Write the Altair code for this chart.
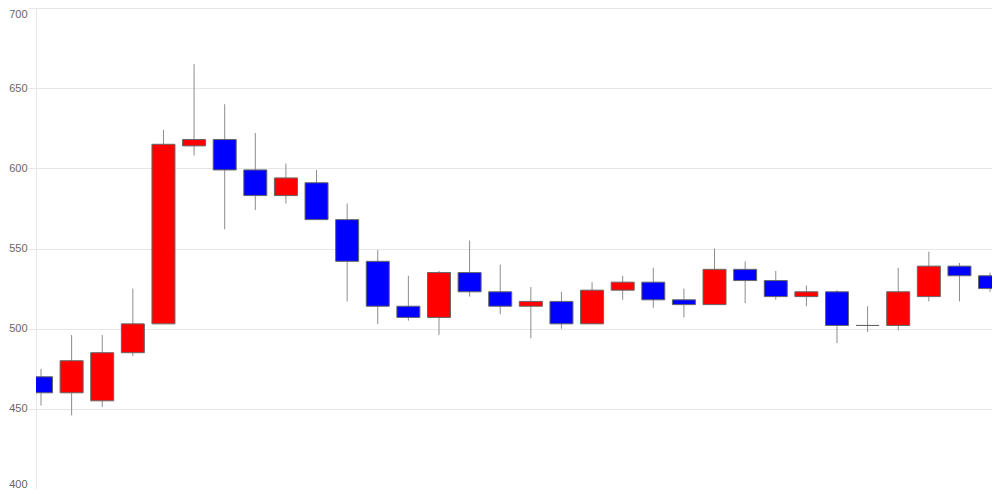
import altair as alt
import pandas as pd

opens  = [470, 460, 455, 485, 503, 614, 618, 599, 583, 591, 568, 542, 514, 507, 535, 523,
          514, 517, 503, 524, 529, 518, 515, 537, 530, 520, 523, 502, 502, 520, 539, 533]
closes = [460, 480, 485, 503, 615, 618, 599, 583, 594, 568, 542, 514, 507, 535, 523, 514,
          517, 503, 524, 529, 518, 515, 537, 530, 520, 523, 502, 502, 523, 539, 533, 525]
highs  = [475, 496, 496, 525, 624, 665, 640, 622, 603, 599, 578, 549, 533, 536, 555, 540,
          526, 523, 529, 533, 538, 525, 550, 542, 536, 527, 524, 514, 538, 548, 541, 535]
lows   = [452, 446, 451, 483, 503, 608, 562, 574, 578, 568, 517, 503, 505, 496, 520, 509,
          494, 500, 503, 518, 513, 507, 515, 516, 518, 514, 491, 498, 499, 517, 517, 523]
y_ticks = [400, 450, 500, 550, 600, 650, 700]

df = pd.DataFrame({
    "i": list(range(len(opens))),
    "open": opens, "close": closes, "high": highs, "low": lows,
})
df["dir"] = ["up" if c > o else ("down" if c < o else "flat") for o, c in zip(opens, closes)]

x = alt.X("i:Q", scale=alt.Scale(domain=[0, 30.9], nice=False, zero=False), axis=None)
yscale = alt.Scale(domain=[400, 700], nice=False, zero=False)

base = alt.Chart(df)

wicks = base.mark_rule(color="#8c8c8c", strokeWidth=1, clip=True).encode(
    x=x,
    y=alt.Y("low:Q", scale=yscale, axis=alt.Axis(
        values=y_ticks, title=None,
        grid=True, gridColor="#e6e6e6", gridWidth=1,
        domain=True, domainColor="#e6e6e6",
        ticks=True, tickColor="#e6e6e6", tickSize=8,
        labelPadding=1, labelFont="Liberation Sans", labelFontSize=11,
        labelColor="#666666",
        labelBaseline={"condition": [
            {"test": "datum.value == 700", "value": "top"},
            {"test": "datum.value == 400", "value": "bottom"},
        ], "value": "middle"},
    )),
    y2="high:Q",
)

bodies = base.mark_bar(width=23, stroke="#666666", strokeWidth=1, clip=True).encode(
    x=x,
    y=alt.Y("open:Q", scale=yscale),
    y2="close:Q",
    fill=alt.Fill("dir:N", scale=alt.Scale(domain=["up", "down", "flat"],
                                            range=["#ff0000", "#0000ff", "#888888"]),
                  legend=None),
)

chart = alt.layer(wicks, bodies).properties(
    width=956, height=481,
    padding={"left": 28, "top": 0, "right": 0, "bottom": 0},
    autosize=alt.AutoSizeParams(type="none"),
).configure_view(stroke=None).configure(background="white")

chart.save("out.html", embed_options={"renderer": "svg", "actions": False})
